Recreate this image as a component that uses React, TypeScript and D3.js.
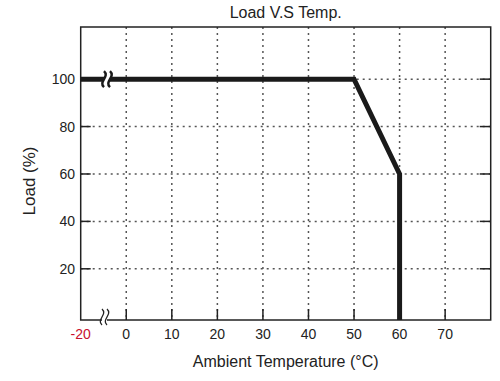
import React from "react";
import * as d3 from "d3";

const title = "Load V.S Temp.";
const xTitle = "Ambient Temperature (°C)";
const yTitle = "Load (%)";
const xTicks = [0, 10, 20, 30, 40, 50, 60, 70];
const xBreakTick = -20;
const yTicks = [20, 40, 60, 80, 100];
const curveTemp = [-20, 50, 60, 60];
const curveLoad = [100, 100, 60, 0];

const W = 500;
const H = 381;
const L = 80.7;
const R = 490.7;
const T = 27;
const B = 320;

export default function App() {
  const xScale = d3.scaleLinear().domain([-10, 80]).range([L, R]);
  const yScale = d3.scaleLinear().domain([-1.6, 122]).range([B, T]);
  const xPos = (t: number) => (t === xBreakTick ? L : xScale(t));
  const yPos = (v: number) => (v === 0 ? B : yScale(v));

  const pts: [number, number][] = curveTemp.map((t, i) => [xPos(t), yPos(curveLoad[i])]);
  const line = d3.line()(pts) || "";

  const font = "'Liberation Sans', Arial, sans-serif";
  const grid = "#555";

  const wave = (x: number, yc: number, h: number, a: number) =>
    `M${x},${yc - h / 2} C${x + a},${yc - h / 6} ${x - a},${yc + h / 6} ${x},${yc + h / 2}`;

  const y100 = yScale(100);

  return (
    <svg width={W} height={H} style={{ position: "absolute", left: 0, top: 0, background: "#fff" }}>
      <rect x={0} y={0} width={W} height={H} fill="#fff" />
      <text x={(L + R) / 2} y={18} textAnchor="middle" fontFamily={font} fontSize={16} fill="#222">
        {title}
      </text>
      {xTicks.map((t) => (
        <line key={"gx" + t} x1={xScale(t)} x2={xScale(t)} y1={T} y2={B} stroke={grid} strokeWidth={1.5} strokeDasharray="2,4" />
      ))}
      {yTicks.map((v) => (
        <line key={"gy" + v} x1={L} x2={R} y1={yScale(v)} y2={yScale(v)} stroke={grid} strokeWidth={1.5} strokeDasharray="2,4" />
      ))}
      {xTicks.map((t) => (
        <line key={"tx" + t} x1={xScale(t)} x2={xScale(t)} y1={B} y2={B - 11} stroke="#222" strokeWidth={1.5} />
      ))}
      {yTicks.map((v) => (
        <g key={"ty" + v}>
          <line x1={L} x2={L + 10} y1={yScale(v)} y2={yScale(v)} stroke="#222" strokeWidth={1.5} />
          <line x1={R} x2={R - 11} y1={yScale(v)} y2={yScale(v)} stroke="#222" strokeWidth={1.5} />
        </g>
      ))}
      <rect x={L} y={T} width={R - L} height={B - T} fill="none" stroke="#222" strokeWidth={1.5} />
      {/* axis break */}
      <rect x={102} y={B - 3} width={5} height={6} fill="#fff" />
      <path d={wave(102, B - 3, 16, 6)} fill="none" stroke="#222" strokeWidth={1.3} />
      <path d={wave(107, B - 3, 16, 6)} fill="none" stroke="#222" strokeWidth={1.3} />
      {/* curve */}
      <path d={line} fill="none" stroke="#1a1a1a" strokeWidth={5} strokeLinejoin="miter" />
      <rect x={104} y={y100 - 4} width={6} height={8} fill="#fff" />
      <path d={wave(104, y100, 16, 6)} fill="none" stroke="#1a1a1a" strokeWidth={2.5} />
      <path d={wave(110, y100, 16, 6)} fill="none" stroke="#1a1a1a" strokeWidth={2.5} />
      {xTicks.map((t) => (
        <text key={"lx" + t} x={xScale(t)} y={339} textAnchor="middle" fontFamily={font} fontSize={14} fill="#222">
          {t}
        </text>
      ))}
      <text x={L} y={339} textAnchor="middle" fontFamily={font} fontSize={14} fill="#c8102e">
        {xBreakTick}
      </text>
      {yTicks.map((v) => (
        <text key={"ly" + v} x={75} y={yScale(v) + 5} textAnchor="end" fontFamily={font} fontSize={14} fill="#222">
          {v}
        </text>
      ))}
      <text x={(L + R) / 2} y={367} textAnchor="middle" fontFamily={font} fontSize={16} fill="#222">
        {xTitle}
      </text>
      <text
        transform={`translate(35,${181}) rotate(-90)`}
        textAnchor="middle"
        fontFamily={font}
        fontSize={17}
        fill="#222"
      >
        {yTitle}
      </text>
    </svg>
  );
}
